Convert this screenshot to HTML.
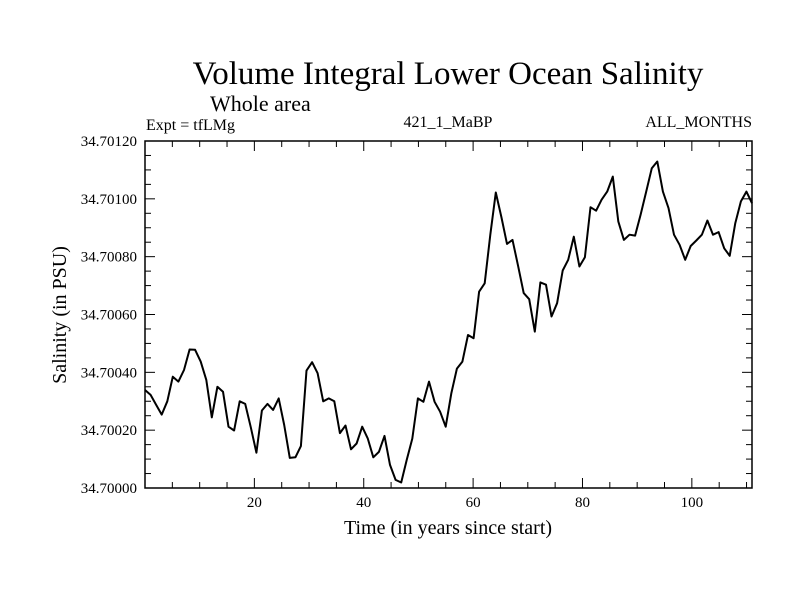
<!DOCTYPE html>
<html><head><meta charset="utf-8"><style>
body{margin:0;background:#fff;}
svg text{font-family:"Liberation Serif",serif;fill:#000;}
</style></head><body>
<svg id="chart" width="800" height="600" xmlns="http://www.w3.org/2000/svg">
<rect width="800" height="600" fill="#fff"/>
<text x="448" y="84" font-size="33" text-anchor="middle">Volume Integral Lower Ocean Salinity</text>
<text x="210" y="111" font-size="22">Whole area</text>
<text x="146" y="130" font-size="16">Expt = tfLMg</text>
<text x="448" y="127" font-size="16" text-anchor="middle">421_1_MaBP</text>
<text x="752" y="127" font-size="16" text-anchor="end">ALL_MONTHS</text>
<text transform="translate(66,315) rotate(-90)" font-size="20" text-anchor="middle">Salinity (in PSU)</text>
<text x="448" y="534" font-size="20" text-anchor="middle">Time (in years since start)</text>
<g id="axes"></g>
<path id="line" fill="none" stroke="#000" stroke-width="2" stroke-linejoin="round"/>
<rect x="145" y="141" width="607" height="347" fill="none" stroke="#000" stroke-width="1.5"/>
</svg>
<script>
const values = [33.9,32.2,28.8,25.4,30,38.5,36.8,40.8,47.9,47.8,43.7,37.4,24.4,35,33.3,21.2,19.9,30,29.1,21,12.2,26.8,29.1,27,31,21.8,10.4,10.6,14.5,40.6,43.5,39.7,30,31,30,19,21.6,13.4,15.4,21.2,17.1,10.6,12.5,18,8,2.8,1.9,9.7,17.1,31,29.8,36.8,29.8,26.4,21.2,32.7,41.3,43.7,52.9,51.8,67.9,70.8,87.6,102.2,93.7,84.4,85.8,76.8,67.4,65.3,54.1,71.1,70.3,59.3,63.9,75.2,78.9,86.9,76.6,79.8,97.1,95.9,99.7,102.5,107.7,92.2,85.8,87.6,87.3,94.5,102.5,110.6,112.9,102.5,96.8,87.6,84.1,78.9,83.7,85.6,87.6,92.5,87.6,88.5,82.9,80.3,91.6,99.1,102.5,98.5];
const xTicks = [20,40,60,80,100];
const yTicks = [0,20,40,60,80,100,120];
const yTickLabels = ["34.70000","34.70020","34.70040","34.70060","34.70080","34.70100","34.70120"];
const L=145,R=752,T=141,B=488;
function xData(i){return L+(i)*(R-L)/(values.length-1);}
function xAxis(yr){return L+yr*(R-L)/111;}
function yAxis(v){return B-v*(B-T)/120;}
const NS="http://www.w3.org/2000/svg";
const g=document.getElementById('axes');
function ln(x1,y1,x2,y2,name){const e=document.createElementNS(NS,'line');e.setAttribute('x1',x1);e.setAttribute('y1',y1);e.setAttribute('x2',x2);e.setAttribute('y2',y2);e.setAttribute('stroke','#000');e.setAttribute('stroke-width','1');


g.appendChild(e);}
for(let yr=5;yr<111;yr+=5){const x=xAxis(yr);const len=(yr%20===0)?10:6;ln(x,B,x,B-len,'x-tick');ln(x,T,x,T+len,'x-tick-top');}
for(let v=5;v<120;v+=5){const y=yAxis(v);const len=(v%20===0)?10:6;ln(L,y,L+len,y,'y-tick');ln(R,y,R-len,y,'y-tick-right');}
xTicks.forEach(t=>{const e=document.createElementNS(NS,'text');e.setAttribute('x',xAxis(t));e.setAttribute('y',B+19);e.setAttribute('font-size','15');e.setAttribute('text-anchor','middle');e.textContent=t;


g.appendChild(e);});
yTicks.forEach((t,i)=>{const e=document.createElementNS(NS,'text');e.setAttribute('x',137);e.setAttribute('y',yAxis(t)+5);e.setAttribute('font-size','15');e.setAttribute('text-anchor','end');e.textContent=yTickLabels[i];


g.appendChild(e);});
document.getElementById('line').setAttribute('d',values.map((v,i)=>(i?'L':'M')+xData(i).toFixed(1)+','+yAxis(v).toFixed(1)).join(''));
</script>
</body></html>
